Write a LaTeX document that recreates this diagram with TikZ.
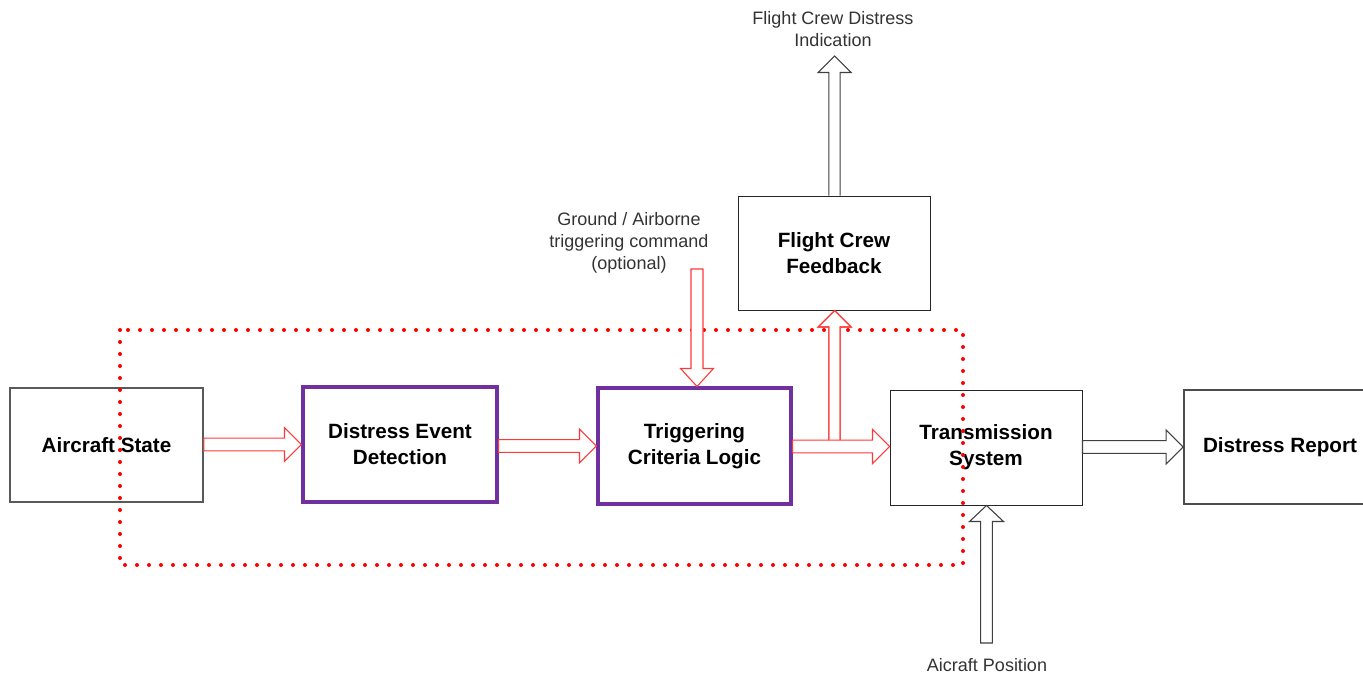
\documentclass[tikz,border=0pt]{standalone}
\usepackage{fontspec}
\setmainfont{Liberation Sans}
\usetikzlibrary{calc}
\definecolor{boxpurple}{HTML}{7030A0}
\definecolor{txtgray}{HTML}{333333}
\definecolor{arrred}{HTML}{FF3838}
\begin{document}
\begin{tikzpicture}[x=0.75pt,y=-0.75pt,
  box/.style={draw=black!85,line width=0.75pt,rectangle,inner sep=2pt,align=center,
    font=\fontsize{15.5}{19.5}\selectfont\bfseries,text=black},
  graybox/.style={box,draw=black!65,line width=1.3pt},
  purplebox/.style={box,draw=boxpurple,line width=2.3pt},
  lbl/.style={align=center,font=\fontsize{13.5}{16.5}\selectfont,text=txtgray,inner sep=0pt},
  redarr/.style={draw=arrred,line width=0.8pt,fill=white,line join=miter},
  blkarr/.style={draw=black!75,line width=0.8pt,fill=white,line join=miter},
  reddots/.style={draw=red,line width=3pt,line cap=round,dash pattern=on 0pt off 9pt}
]
\useasboundingbox (0,0) rectangle (1363,678);

% boxes
\node[graybox,minimum width=144.75pt,minimum height=85.5pt] (as) at (106.5,445) {Aircraft State};
\node[purplebox,minimum width=145.5pt,minimum height=86.25pt] (ded) at (400,444.5) {Distress Event\\Detection};
\node[purplebox,minimum width=144.75pt,minimum height=87pt] (tcl) at (694.5,446) {Triggering\\Criteria Logic};
\node[box,minimum width=144pt,minimum height=85.5pt] (fcf) at (834,253) {Flight Crew\\Feedback};
\node[box,minimum width=144pt,minimum height=86.25pt] (ts) at (986,447.5) {Transmission\\System};
\node[graybox,draw=black!70,minimum width=144pt,minimum height=85.5pt] (dr) at (1280,447) {Distress Report};

% dotted boundary
\coordinate (d1) at (120,330);
\coordinate (d2) at (963,565);
\draw[reddots] (d1) rectangle (d2);

% labels
\node[lbl] (fcdi) at (833,29) {Flight Crew Distress\\Indication};
\node[lbl] (gat) at (629,243) {Ground / Airborne\\triggering command\\(optional)};
\node[lbl] (apos) at (987,665) {Aicraft Position};

% arrow start points
\coordinate (a1s) at (as.east |- 0,444.5);
\coordinate (a1e) at (ded.west |- 0,444.5);
\coordinate (a2s) at (ded.east |- 0,446);
\coordinate (a2e) at (tcl.west |- 0,446);
\coordinate (a3s) at (tcl.east |- 0,446.5);
\coordinate (a3e) at (ts.west |- 0,446.5);
\coordinate (a4s) at (ts.east |- 0,447);
\coordinate (a4e) at (dr.west |- 0,447);
\coordinate (v1s) at (834.5,440);
\coordinate (v1e) at (fcf.south -| v1s);
\coordinate (v2s) at (fcf.north -| 834.5,0);
\coordinate (v2e) at (834.5,56);
\coordinate (v3s) at (697,269);
\coordinate (v3e) at (tcl.north -| v3s);
\coordinate (v4s) at (986.5,643);
\coordinate (v4e) at (ts.south -| v4s);

% horizontal block arrows
\newcommand{\harr}[3]{%
  \draw[#3] ($(#1)+(0,-6.3)$) -- ($(#2)+(-17,-6.3)$) -- ($(#2)+(-17,-17)$) -- (#2)
    -- ($(#2)+(-17,17)$) -- ($(#2)+(-17,6.3)$) -- ($(#1)+(0,6.3)$) -- cycle;}
% vertical up block arrows (end above start)
\newcommand{\uarr}[3]{%
  \draw[#3] ($(#1)+(-5.7,0)$) -- ($(#2)+(-5.7,16.5)$) -- ($(#2)+(-16.5,16.5)$) -- (#2)
    -- ($(#2)+(16.5,16.5)$) -- ($(#2)+(5.7,16.5)$) -- ($(#1)+(5.7,0)$);}
% vertical down block arrow
\newcommand{\darr}[3]{%
  \draw[#3] ($(#1)+(-6,0)$) -- ($(#2)+(-6,-18)$) -- ($(#2)+(-16.5,-18)$) -- (#2)
    -- ($(#2)+(16.5,-18)$) -- ($(#2)+(6,-18)$) -- ($(#1)+(6,0)$) -- cycle;}

\uarr{v1s}{v1e}{redarr}
\harr{a1s}{a1e}{redarr}
\harr{a2s}{a2e}{redarr}
\harr{a3s}{a3e}{redarr}
\uarr{v1s}{v1e}{draw=arrred,line width=0.8pt,line join=miter}
\harr{a4s}{a4e}{blkarr}
\uarr{v2s}{v2e}{blkarr}
\darr{v3s}{v3e}{redarr}
\draw[blkarr] ($(v4s)+(-5.8,0)$) -- ($(v4e)+(-5.8,16)$) -- ($(v4e)+(-17,16)$) -- (v4e)
    -- ($(v4e)+(17,16)$) -- ($(v4e)+(5.8,16)$) -- ($(v4s)+(5.8,0)$) -- cycle;
\end{tikzpicture}
\end{document}
